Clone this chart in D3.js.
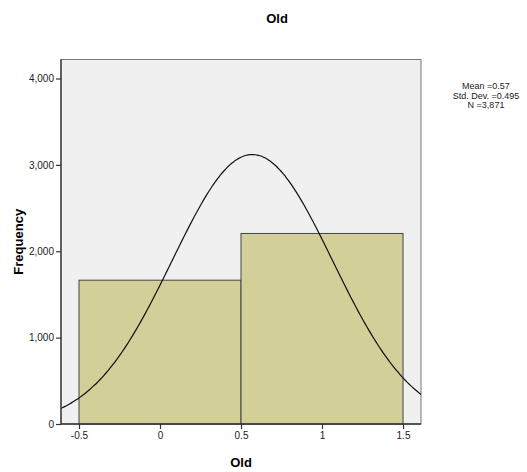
<!DOCTYPE html>
<html>
<head>
<meta charset="utf-8">
<script src="https://cdn.jsdelivr.net/npm/d3@7"></script>
<style>
body { margin: 0; background: #fff; }
text { font-family: "Liberation Sans", Arial, sans-serif; }
</style>
</head>
<body>
<script>
// histogram bins (lower edge, upper edge) and counts
let binStarts = [-0.5, 0.5]
let binEnds = [0.5, 1.5]
let counts = [1665, 2206]
let xTicks = [-0.5, 0, 0.5, 1, 1.5]
let yTicks = [0, 1000, 2000, 3000, 4000]
// stats shown in the legend, used for the normal curve
let statMean = 0.57
let statSd = 0.495
let statN = 3871
let statLines = ["Mean =0.57", "Std. Dev. =0.495", "N =3,871"]

let w = 527, h = 472
let pLeft = 61, pRight = 421, pTop = 59.5, pBottom = 424

let svg = d3.select("body").append("svg")
    .attr("width", w)
    .attr("height", h)

let x = d3.scaleLinear().domain([-0.611, 1.611]).range([pLeft, pRight])
let y = d3.scaleLinear().domain([0, 4220]).range([pBottom, pTop])

svg.append("rect")
    .attr("x", pLeft).attr("y", pTop)
    .attr("width", pRight - pLeft).attr("height", pBottom - pTop)
    .attr("fill", "#f0f0f0")
    .attr("stroke", "#777")
    .attr("stroke-width", 1)

let bins = counts.map((c, i) => ({ x0: binStarts[i], x1: binEnds[i], n: c }))

svg.append("g").selectAll("rect")
    .data(bins)
    .enter().append("rect")
    .attr("x", d => x(d.x0))
    .attr("y", d => y(d.n))
    .attr("width", d => x(d.x1) - x(d.x0))
    .attr("height", d => y(0) - y(d.n))
    .attr("fill", "#d3cf98")
    .attr("stroke", "#444")
    .attr("stroke-width", 1)

// normal curve scaled to the counts (bin width 1)
let binW = binEnds[0] - binStarts[0]
let pts = d3.range(0, 201).map(i => {
    let v = x.domain()[0] + (x.domain()[1] - x.domain()[0]) * i / 200
    let z = (v - statMean) / statSd
    return [v, statN * binW * Math.exp(-0.5 * z * z) / (statSd * Math.sqrt(2 * Math.PI))]
})
svg.append("path")
    .attr("d", d3.line().x(d => x(d[0])).y(d => y(d[1])).curve(d3.curveBasis)(pts))
    .attr("fill", "none")
    .attr("stroke", "#111")
    .attr("stroke-width", 1.2)

let yAxis = svg.append("g")
    .attr("transform", "translate(" + pLeft + ",0)")
    .call(d3.axisLeft(y).tickValues(yTicks).tickSize(5).tickPadding(2).tickFormat(d3.format(",")))
let xAxis = svg.append("g")
    .attr("transform", "translate(0," + pBottom + ")")
    .call(d3.axisBottom(x).tickValues(xTicks).tickSize(5).tickPadding(3).tickFormat(d => d))

;[yAxis, xAxis].forEach(a => {
    a.select(".domain").remove()
    a.selectAll("line").attr("stroke", "#333").attr("stroke-width", 1.2)
    a.selectAll("text").attr("fill", "#222").style("font-size", "10px")
        .style("font-family", "'Liberation Sans', Arial, sans-serif")
})
svg.append("line").attr("x1", pLeft).attr("x2", pLeft).attr("y1", pTop).attr("y2", pBottom)
    .attr("stroke", "#333").attr("stroke-width", 1.3)
svg.append("line").attr("x1", pLeft).attr("x2", pRight).attr("y1", pBottom).attr("y2", pBottom)
    .attr("stroke", "#333").attr("stroke-width", 1.3)

svg.append("text")
    .attr("x", 277).attr("y", 23)
    .attr("text-anchor", "middle")
    .style("font-size", "13px").style("font-weight", "bold")
    .text("Old")

svg.append("text")
    .attr("x", (pLeft + pRight) / 2).attr("y", 467)
    .attr("text-anchor", "middle")
    .style("font-size", "13px").style("font-weight", "bold")
    .text("Old")

svg.append("text")
    .attr("transform", "translate(23," + ((pTop + pBottom) / 2) + ") rotate(-90)")
    .attr("text-anchor", "middle")
    .style("font-size", "13px").style("font-weight", "bold")
    .text("Frequency")

svg.append("g").selectAll("text")
    .data(statLines)
    .enter().append("text")
    .attr("x", 486)
    .attr("y", (d, i) => 89 + i * 9.5)
    .attr("text-anchor", "middle")
    .style("font-size", "9px")
    .attr("fill", "#222")
    .text(d => d)
</script>
</body>
</html>
